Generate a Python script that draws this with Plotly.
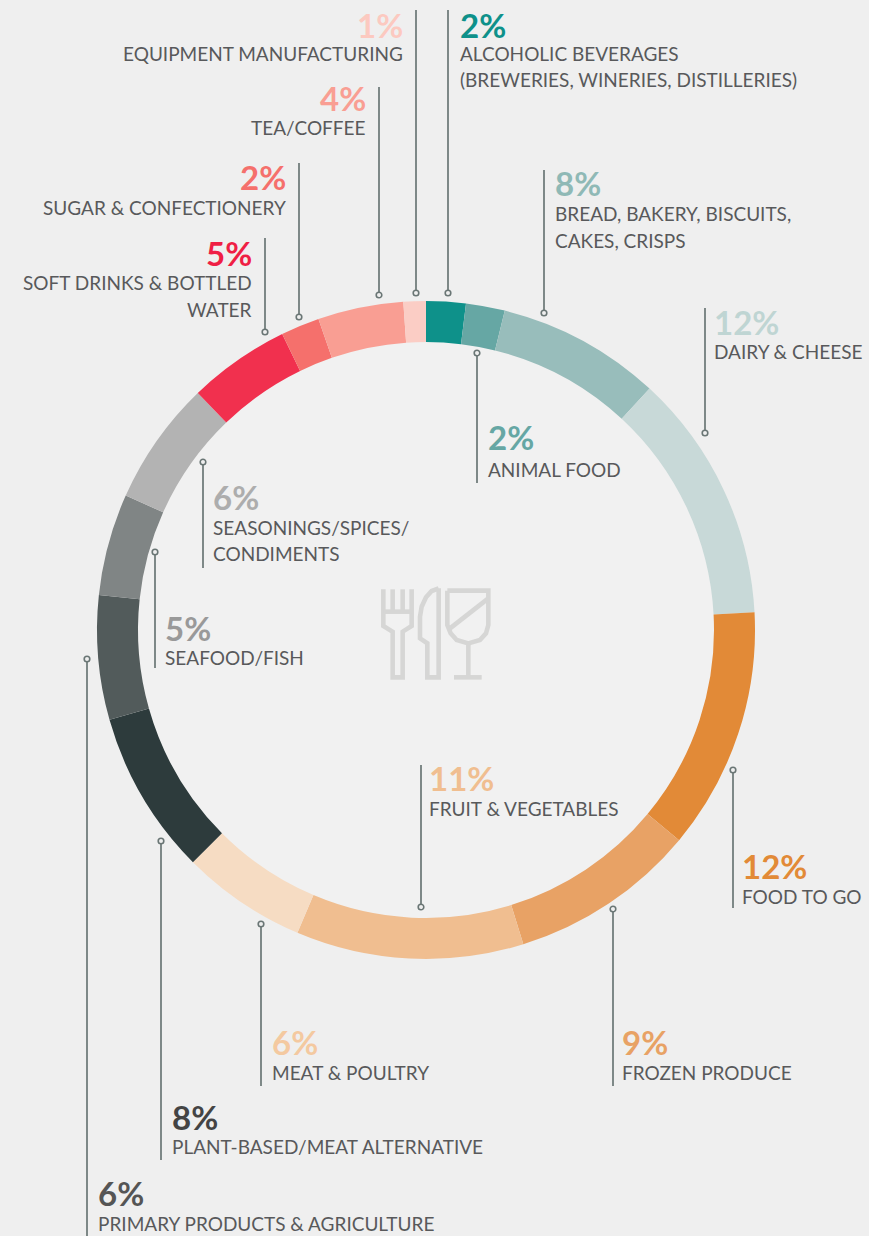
import plotly.graph_objects as go

W, H = 869, 1236
categories = ["ALCOHOLIC BEVERAGES", "ANIMAL FOOD", "BREAD, BAKERY, BISCUITS, CAKES, CRISPS", "DAIRY & CHEESE",
              "FOOD TO GO", "FROZEN PRODUCE", "FRUIT & VEGETABLES", "MEAT & POULTRY",
              "PLANT-BASED/MEAT ALTERNATIVE", "PRIMARY PRODUCTS & AGRICULTURE", "SEAFOOD/FISH",
              "SEASONINGS/SPICES/CONDIMENTS", "SOFT DRINKS & BOTTLED WATER", "SUGAR & CONFECTIONERY",
              "TEA/COFFEE", "EQUIPMENT MANUFACTURING"]
# arc shares (the printed labels are the rounded figures)
values = [1.94, 1.91, 8.04, 12.25, 11.89, 9.19, 11.17, 6.14, 8.07, 6.1, 5.0, 6.1, 5.0, 1.9, 4.2, 1.1]
colors = ["#0e918a", "#66a7a4", "#98bdbb", "#c8d9d8", "#e28a37", "#e8a265", "#f0be90", "#f6dcc3",
          "#2d3b3c", "#525b5b", "#808585", "#b3b3b3", "#f1304e", "#f5706c", "#f99e93", "#fbcdc5"]

# text label lines: (percent, percent colour, anchor, x, percent y, [(line, y), ...])
labels = [
    ("1%", "#fcc9c0", "right", 403, 25, [("EQUIPMENT MANUFACTURING", 54)]),
    ("2%", "#0e918a", "left", 460, 25, [("ALCOHOLIC BEVERAGES", 54), ("(BREWERIES, WINERIES, DISTILLERIES)", 79)]),
    ("4%", "#f99e93", "right", 366, 98, [("TEA/COFFEE", 128)]),
    ("2%", "#f5706c", "right", 286, 177, [("SUGAR & CONFECTIONERY", 207)]),
    ("5%", "#ef1f45", "right", 252, 253, [("SOFT DRINKS & BOTTLED", 283), ("WATER", 310)]),
    ("8%", "#8fb9b6", "left", 555, 183, [("BREAD, BAKERY, BISCUITS,", 213), ("CAKES, CRISPS", 241)]),
    ("12%", "#bfd5d3", "left", 714, 322, [("DAIRY & CHEESE", 352)]),
    ("2%", "#66a7a4", "left", 488, 437, [("ANIMAL FOOD", 469)]),
    ("6%", "#adadad", "left", 213, 497, [("SEASONINGS/SPICES/", 527), ("CONDIMENTS", 554)]),
    ("5%", "#999999", "left", 165, 628, [("SEAFOOD/FISH", 658)]),
    ("6%", "#555555", "left", 98, 1193, [("PRIMARY PRODUCTS & AGRICULTURE", 1223)]),
    ("8%", "#444444", "left", 172, 1117, [("PLANT-BASED/MEAT ALTERNATIVE", 1146)]),
    ("6%", "#f4c9a0", "left", 272, 1042, [("MEAT & POULTRY", 1072)]),
    ("11%", "#f0be90", "left", 429, 778, [("FRUIT & VEGETABLES", 808)]),
    ("9%", "#e8a265", "left", 622, 1042, [("FROZEN PRODUCE", 1072)]),
    ("12%", "#e28a37", "left", 742, 866, [("FOOD TO GO", 896)]),
]

# leader lines: x, far end y, dot y
leaders = [(416, 10, 293), (448, 10, 293), (379, 87, 295), (299, 163, 317), (265, 238, 332),
           (544, 170, 313), (705, 308, 433), (477, 483, 353), (203, 568, 462), (155, 668, 552),
           (87, 1236, 659), (161, 1160, 841), (261, 1086, 924), (421, 765, 907), (613, 1086, 909),
           (733, 908, 770)]

def px(x):
    return x / W

def py(y):
    return 1 - y / H

def zp(points):
    return [(340 + a / 3, 560 + b / 3) for a, b in points]

def path(points, close=False):
    d = "M " + " L ".join(f"{px(a):.5f},{py(b):.5f}" for a, b in zp(points))
    return d + (" Z" if close else "")

BG = "#efefef"
INNER = "#f1f1f1"
LINE = "#6a7675"
ICON = "#d6d6d5"
FONT = "Lato, 'Open Sans', sans-serif"

fig = go.Figure(go.Pie(
    labels=categories, values=values, sort=False, direction="clockwise", rotation=0,
    hole=288 / 329, textinfo="none", hoverinfo="label+percent",
    marker=dict(colors=colors, line=dict(width=0)),
    domain=dict(x=[97 / W, 755 / W], y=[py(959), py(301)]),
))

shapes = [dict(type="circle", xref="paper", yref="paper", layer="below",
               x0=px(426 - 300), x1=px(426 + 300), y0=py(630 - 300), y1=py(630 + 300),
               fillcolor=INNER, line=dict(width=0))]
for x, end, dot in leaders:
    shapes.append(dict(type="line", xref="paper", yref="paper", x0=px(x), x1=px(x), y0=py(end), y1=py(dot),
                       line=dict(color=LINE, width=1.7)))
    r = 2.8
    shapes.append(dict(type="circle", xref="paper", yref="paper", x0=px(x - r), x1=px(x + r),
                       y0=py(dot - r), y1=py(dot + r), fillcolor=BG, line=dict(color=LINE, width=1.6)))

icon_paths = [
    # fork
    [(130, 88), (130, 198), (158, 215), (158, 352), (188, 352), (188, 215), (215, 198), (215, 88)],
    [(130, 155), (215, 155)],
    [(158, 88), (158, 155)],
    [(188, 88), (188, 155)],
    # knife
    [(296, 85), (296, 352), (262, 352), (262, 250), (240, 235), (240, 170), (245, 140), (258, 112), (275, 93), (296, 85)],
    # glass
    [(322, 92), (445, 92), (445, 195), (438, 220), (420, 240), (385, 250), (350, 240), (332, 220), (322, 195), (322, 92)],
    [(330, 205), (445, 115)],
    [(385, 250), (385, 352)],
    [(342, 352), (425, 352)],
]
for p in icon_paths:
    shapes.append(dict(type="path", xref="paper", yref="paper", path=path(p),
                       line=dict(color=ICON, width=4.6)))

annotations = []
for pct, col, anchor, x, y, lines in labels:
    annotations.append(dict(text=f"<b>{pct}</b>", x=px(x), y=py(y), xref="paper", yref="paper",
                            xanchor=anchor, yanchor="middle", showarrow=False, borderpad=0, borderwidth=0,
                            font=dict(family=FONT, size=33, color=col)))
    for t, ly in lines:
        annotations.append(dict(text=t, x=px(x), y=py(ly), xref="paper", yref="paper",
                                xanchor=anchor, yanchor="middle", showarrow=False, borderpad=0, borderwidth=0,
                                font=dict(family=FONT, size=19, color="#58595b")))

fig.update_layout(width=W, height=H, margin=dict(l=0, r=0, t=0, b=0), autosize=False,
                  paper_bgcolor=BG, plot_bgcolor=BG, showlegend=False,
                  shapes=shapes, annotations=annotations)
fig.write_html("out.html", config={"displayModeBar": False},
               post_script="document.body.style.margin='0';document.body.style.background='#efefef';document.documentElement.style.overflow='hidden';")
